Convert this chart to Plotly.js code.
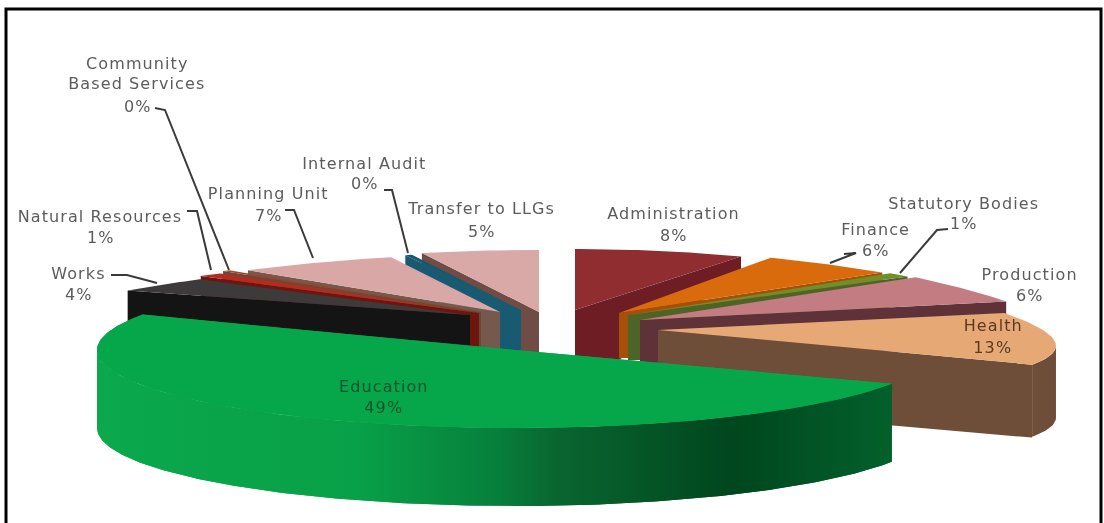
<!DOCTYPE html>
<html><head><meta charset="utf-8">
<script src="https://cdn.plot.ly/plotly-3.0.1.min.js"></script>
<style>html,body{margin:0;padding:0;background:#fff;overflow:hidden}
#chart{width:1104px;height:523px;filter:blur(0.7px)}
#chart .annotation-text{letter-spacing:1.1px}</style></head>
<body><div id="chart"></div>
<script>
// ---- data, clockwise from twelve o'clock ----
const categories = ['Administration','Finance','Statutory Bodies','Production','Health','Education','Works','Natural Resources','Community Based Services','Planning Unit','Internal Audit','Transfer to LLGs'];
const shares = [8,6,1,6,13,49,4,1,0.3,7,0.3,5];
const percentLabels = ['8%','6%','1%','6%','13%','49%','4%','1%','0%','7%','0%','5%'];

// ---- drawing style and pseudo-3D geometry per slice ----
const topColor  = ['#8f2d31','#d96b0c','#6f8f2a','#c27c82','#e6a975','#06a74b','#3c3a3a','#b42b20','#a8402a','#d9a8a6','#17586e','#d9a9a8'];
const sideColor = ['#6e1d24','#a64f08','#4e6426','#5f3139','#6e4e38','#06a74b','#151414','#6f1510','#6b4a35','#75594c','#175a72','#6f4c46'];
const pivotX = [575,619,628,640,658,515,470,479,481,500,521,539];
const pivotY = [310,313,315,320,330,350,315,313,312,312,310,312];
const radX   = [454,415,413,407,385,418,438,451,450,450,478,513];
const radY   = [61,63,65,72,66,78,54,56,58,58,58,62];
const persp  = [.27,.27,.27,.27,.27,0,.27,.27,.27,.27,.27,.27];
const startNudge = [0,0,0,0,0,-6,0,0,0,0,0,0];
const pivotDrop  = [50,45,45,50,75,0,50,45,45,45,45,45];
const rimWall    = [0,0,0,0,72,78,0,0,0,0,0,0];
const paintOrder = [0,1,2,3,4,11,10,9,8,7,6,5];

// ---- labels and leaders ----
const labelLines = [['Administration','8%'],['Finance','6%'],['Statutory Bodies','1%'],['Production','6%'],['Health','13%'],['Education','49%'],['Works','4%'],['Natural Resources','1%'],['Community','Based Services','0%'],['Planning Unit','7%'],['Internal Audit','0%'],['Transfer to LLGs','5%']];
const labelX = [673,875,963,1029,993,384,78,100,137,268,364,481];
const labelY = [[213,235],[229,250],[203,223],[274,295],[325,347],[386,407],[273,294],[216,237],[63,83,106],[193,215],[163,183],[208,231]];
const labelColor = ['#5c5c5c','#5c5c5c','#5c5c5c','#5c5c5c','#5a3a22','#14532a','#5c5c5c','#5c5c5c','#5c5c5c','#5c5c5c','#5c5c5c','#5c5c5c'];
const leaders = [
  {x:[844,856],y:[254,253],x2:830,y2:263},
  {x:[948,937],y:[229,230],x2:900,y2:273},
  {x:[155,165],y:[108,110],x2:229,y2:270},
  {x:[187,197],y:[211,211],x2:211,y2:270},
  {x:[111,127],y:[275,275],x2:157,y2:283},
  {x:[285,294],y:[210,210],x2:313,y2:258},
  {x:[384,392],y:[190,190],x2:408,y2:253}
];

const total = shares.reduce((a,b)=>a+b,0);
const rad = d => d*Math.PI/180;
// height of a cut face grows toward the viewer
const wall = y => y<=360 ? 13+0.54*(y-250) : 72.4+0.12*(y-360);
let acc = 0;
const slices = shares.map((s,i)=>{ const a=acc/total*360; acc+=s; return {i,a:a+startNudge[i],b:acc/total*360}; });
const rimPoint = (i,deg)=>{
  const v=-Math.cos(rad(deg));
  return [pivotX[i]+radX[i]*(1+persp[i]*v)*Math.sin(rad(deg)), pivotY[i]+radY[i]*v];
};
const rim = (i,a,b)=>{ const pts=[]; const n=Math.max(2,Math.ceil(Math.abs(b-a)));
  for(let k=0;k<=n;k++) pts.push(rimPoint(i,a+(b-a)*k/n)); return pts; };
const poly = (pts,color,extra)=>Object.assign({type:'scatter',mode:'lines',x:pts.map(p=>p[0]),y:pts.map(p=>p[1]),fill:'toself',fillcolor:color,line:{width:0,color:color},hoverinfo:'skip',showlegend:false},extra||{});

const traces=[];
const drawSlice = (s,order)=>{
  const i=s.i, mid=(s.a+s.b)/2;
  if(i!==5){
    const edgeDeg = mid<180 ? s.b : s.a;
    const c=rimPoint(i,edgeDeg);
    const floor=pivotY[i]+pivotDrop[i];
    const nextIdx = paintOrder[order+1];
    const sameSide = nextIdx!==undefined && (nextIdx<5)===(i<5);
    const stepX = sameSide ? pivotX[nextIdx] : pivotX[i];
    traces.push(poly([[pivotX[i],pivotY[i]],c,[c[0],c[1]+wall(c[1])],[stepX,floor],[pivotX[i],floor]],sideColor[i]));
  }
  if(rimWall[i]>0){
    const all=rim(i,s.a,s.b), xs=all.map(p=>p[0]);
    const up = mid<180 ? all.slice(xs.indexOf(Math.max(...xs))) : all.slice(0,xs.indexOf(Math.min(...xs))+1);
    const low=up.map(p=>[p[0],p[1]+rimWall[i]]).reverse();
    const extra = i===5 ? {fillgradient:{type:'horizontal',colorscale:[[0,'#0ba84c'],[0.33,'#08a048'],[0.5,'#07803c'],[0.58,'#09652f'],[0.8,'#00461e'],[1,'#03602b']]}} : {};
    traces.push(poly(up.concat(low),sideColor[i],extra));
  }
  traces.push(poly([[pivotX[i],pivotY[i]]].concat(rim(i,s.a,s.b)),topColor[i]));
};
paintOrder.forEach((k,o)=>drawSlice(slices[k],o));
drawSlice(slices[5],paintOrder.length);

leaders.forEach(l=>traces.push({type:'scatter',mode:'lines',x:l.x.concat([l.x2]),y:l.y.concat([l.y2]),line:{color:'#3a3a3a',width:2},hoverinfo:'skip',showlegend:false}));

const annotations=[];
labelLines.forEach((lines,i)=>lines.forEach((t,j)=>annotations.push({x:labelX[i],y:labelY[i][j],xref:'x',yref:'y',text:t,showarrow:false,xanchor:'center',yanchor:'middle',font:{family:'"DejaVu Sans",sans-serif',size:16,color:labelColor[i]}})));

Plotly.newPlot('chart',traces,{
  width:1104,height:523,margin:{l:0,r:0,t:0,b:0},paper_bgcolor:'#fff',plot_bgcolor:'#fff',showlegend:false,
  xaxis:{range:[0,1104],visible:false,fixedrange:true},
  yaxis:{range:[523,0],visible:false,fixedrange:true},
  annotations:annotations,
  shapes:[{type:'rect',xref:'x',yref:'y',x0:6,y0:9,x1:1101,y1:530,line:{color:'#000',width:3},fillcolor:'rgba(0,0,0,0)',layer:'above'}]
},{displayModeBar:false,staticPlot:true});
</script></body></html>
